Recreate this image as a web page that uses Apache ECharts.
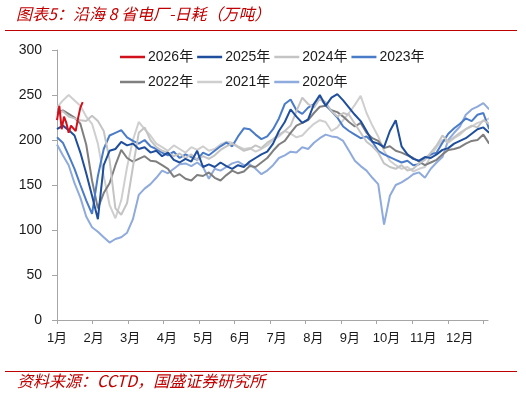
<!DOCTYPE html>
<html>
<head>
<meta charset="utf-8">
<script src="https://cdn.jsdelivr.net/npm/echarts@6/dist/echarts.min.js"></script>
<style>
html,body{margin:0;padding:0;background:#fff;}
#c{width:526px;height:396px;}
</style>
</head>
<body>
<div id="c"></div>
<script>
// ---- data (daily-consumption samples, 万吨) ----
var monthLabels = ['1月','2月','3月','4月','5月','6月','7月','8月','9月','10月','11月','12月'];
var yearNames = ['2026年','2025年','2024年','2023年','2022年','2021年','2020年'];
var stepDays = 5;        // sampling step of full-year series (days)
var stepDays2026 = 2;    // sampling step of the 2026 series (days)

var v2026 = [222, 238, 212, 226, 219, 208, 216, 213, 210, 224, 236, 242];

var v2025 = [212,216,211,205,186,163,138,112,172,188,190,198,194,196,190,192,186,188,182,186,
             178,175,179,176,188,170,173,170,175,171,168,172,170,176,180,184,187,196,210,220,
             234,226,219,223,240,250,238,247,251,244,236,228,221,210,198,196,192,210,222,193,
             184,179,177,181,180,184,189,191,196,199,202,207,212,214,208];

var v2024 = [228,232,226,224,222,221,227,221,210,178,124,117,130,170,208,214,200,192,188,186,
             182,185,180,184,178,182,179,183,189,193,196,192,188,190,194,191,197,201,206,210,
             216,232,247,240,236,246,242,232,226,230,228,218,208,198,193,186,174,170,168,172,
             166,168,174,178,186,194,205,198,203,208,212,216,214,222,218];

var v2023 = [203,197,183,168,150,133,118,160,190,205,208,211,203,199,196,200,193,190,186,183,
             187,180,184,181,178,186,183,188,193,197,193,204,213,212,206,201,204,212,224,240,
             245,233,229,236,240,247,239,232,225,215,210,206,202,204,198,188,184,181,178,175,
             177,172,173,180,184,186,197,207,213,218,224,221,228,230,212];

var v2022 = [230,233,229,225,218,195,155,124,141,152,172,189,180,176,179,182,177,176,172,168,
             159,162,157,155,161,160,164,158,155,161,166,163,165,171,170,175,180,188,195,199,
             208,216,219,222,230,237,238,233,231,226,220,215,219,208,202,199,191,193,188,186,
             183,180,176,172,175,178,184,189,190,192,196,199,200,206,196];

var v2021 = [236,244,250,244,238,226,218,196,160,128,113,133,170,200,220,212,205,196,192,188,
             194,190,186,192,189,193,188,190,195,198,197,193,190,191,187,190,194,200,204,210,
             207,203,205,212,218,222,220,210,214,222,230,239,249,230,216,204,188,177,172,168,
             170,165,168,170,182,192,200,197,202,206,212,215,219,221,224];

var v2020 = [195,183,172,152,136,115,103,98,92,86,90,92,97,112,139,146,151,158,166,163,
             168,173,174,171,175,170,157,168,166,170,174,176,172,173,168,162,166,172,180,183,
             187,186,192,190,197,202,206,204,203,199,188,177,171,166,158,151,106,138,150,153,
             157,162,164,158,168,175,181,200,208,215,228,234,237,241,234];

var yTicks = [0, 50, 100, 150, 200, 250, 300];

// ---- chart ----
var daysPerMonth = 365 / 12;
function toPairs(vals, step) {
  return vals.map(function (v, i) { return [i * step, v]; });
}
var tickVals = [];
for (var m = 0; m <= 12; m++) tickVals.push(m * daysPerMonth);
var labelVals = monthLabels.map(function (t, i) { return i * 31.35; });

var fontLatin = '"Liberation Sans", Arial, "Noto Sans CJK SC", sans-serif';
var red = '#C00000';

var seriesDefs = [
  { name: '2020年', data: toPairs(v2020, stepDays), color: '#8FAADC', w: 2 },
  { name: '2021年', data: toPairs(v2021, stepDays), color: '#CFCFCF', w: 2 },
  { name: '2022年', data: toPairs(v2022, stepDays), color: '#7F7F7F', w: 2 },
  { name: '2023年', data: toPairs(v2023, stepDays), color: '#4A7BC8', w: 2 },
  { name: '2024年', data: toPairs(v2024, stepDays), color: '#C4C4C4', w: 2 },
  { name: '2025年', data: toPairs(v2025, stepDays), color: '#1F4E9C', w: 2 },
  { name: '2026年', data: toPairs(v2026, stepDays2026), color: '#D0101A', w: 2 }
];

var series = seriesDefs.map(function (s) {
  return {
    name: s.name, type: 'line', data: s.data, symbol: 'none', showSymbol: false,
    color: s.color, lineStyle: { color: s.color, width: s.w }, animation: false
  };
});

var legendCommon = {
  left: 115, itemWidth: 25, itemHeight: 2.5, itemGap: 4, icon: 'rect',
  textStyle: { fontSize: 14, color: '#1a1a1a', fontFamily: fontLatin, padding: [0, 0, 0, -2] },
  selectedMode: false
};

var chart = echarts.init(document.getElementById('c'), null, { renderer: 'canvas' });
chart.setOption({
  backgroundColor: '#fff',
  animation: false,
  grid: { left: 57, right: 38, top: 50, bottom: 76, containLabel: false },
  legend: [
    Object.assign({ top: 45, data: yearNames.slice(0, 4) }, legendCommon),
    Object.assign({ top: 70, data: yearNames.slice(4) }, legendCommon)
  ],
  xAxis: {
    type: 'value', min: 0, max: 369,
    splitLine: { show: false },
    axisLine: { show: true, lineStyle: { color: '#A6A6A6', width: 1 } },
    axisTick: { show: true, length: 4, customValues: tickVals, lineStyle: { color: '#A6A6A6' } },
    axisLabel: {
      customValues: labelVals, margin: 12, fontSize: 13, color: '#1a1a1a', fontFamily: fontLatin,
      formatter: function (v) {
        var i = Math.round(v / 31.35);
        return monthLabels[i] || '';
      }
    }
  },
  yAxis: {
    type: 'value', min: 0, max: 300, interval: 50,
    splitLine: { show: false },
    axisLine: { show: true, lineStyle: { color: '#A6A6A6', width: 1 } },
    axisTick: { show: true, length: 5, lineStyle: { color: '#A6A6A6' } },
    axisLabel: {
      margin: 15, fontSize: 14, color: '#1a1a1a', fontFamily: fontLatin,
      formatter: function (v) { return yTicks.indexOf(v) >= 0 ? String(v) : ''; }
    }
  },
  graphic: [
    { type: 'text', left: 16, top: 6, style: { text: '图表5：沿海 8 省电厂-日耗（万吨）', fill: red, fontSize: 16, fontStyle: 'italic', fontFamily: '"Noto Sans CJK SC", sans-serif' } },
    { type: 'line', shape: { x1: 5, y1: 30.5, x2: 517, y2: 30.5 }, style: { stroke: red, lineWidth: 1 } },
    { type: 'line', shape: { x1: 5, y1: 371.5, x2: 517, y2: 371.5 }, style: { stroke: red, lineWidth: 1 } },
    { type: 'text', left: 17, top: 373, style: { text: '资料来源：CCTD，国盛证券研究所', fill: red, fontSize: 16, fontStyle: 'italic', fontFamily: '"Noto Sans CJK SC", sans-serif' } }
  ],
  series: series
});
</script>
</body>
</html>
